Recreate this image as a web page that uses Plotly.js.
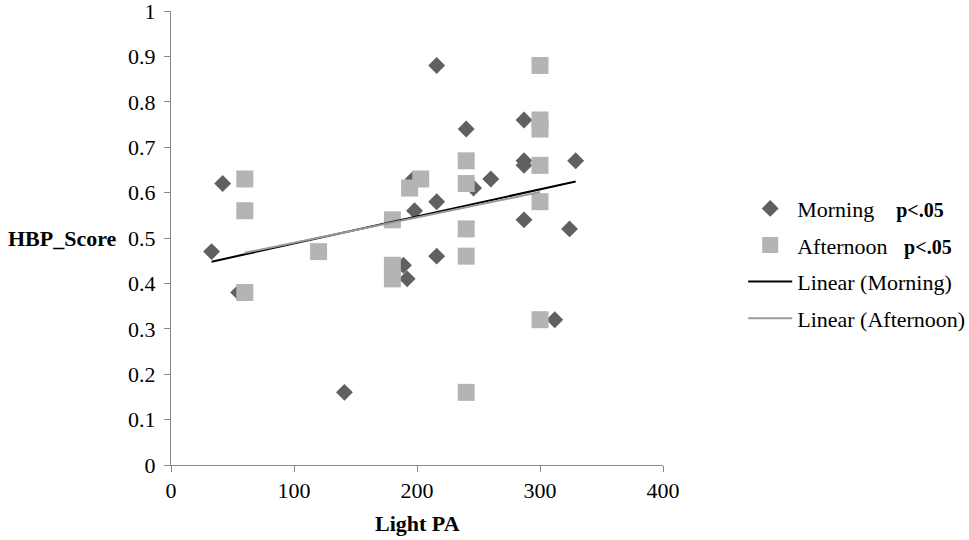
<!DOCTYPE html>
<html>
<head>
<meta charset="utf-8">
<script src="https://cdn.plot.ly/plotly-3.0.1.min.js"></script>
<style>
  html, body { margin: 0; padding: 0; background: #ffffff; }
  #chart { width: 969px; height: 540px; }
</style>
</head>
<body>
<div id="chart"></div>
<script>
  // Morning sessions (diamonds)
  const morningLightPA = [33, 42, 55, 141, 189, 192, 197, 198, 216, 216, 216, 240, 246, 260, 287, 287, 287, 287, 312, 324, 329];
  const morningScore = [0.47, 0.62, 0.38, 0.16, 0.44, 0.41, 0.63, 0.56, 0.88, 0.58, 0.46, 0.74, 0.61, 0.63, 0.76, 0.67, 0.66, 0.54, 0.32, 0.52, 0.67];

  // Afternoon sessions (squares)
  const afternoonLightPA = [60, 60, 60, 120, 180, 180, 180, 194, 203, 240, 240, 240, 240, 240, 300, 300, 300, 300, 300, 300];
  const afternoonScore = [0.63, 0.56, 0.38, 0.47, 0.54, 0.44, 0.41, 0.61, 0.63, 0.67, 0.62, 0.52, 0.46, 0.16, 0.88, 0.76, 0.74, 0.66, 0.58, 0.32];

  const xTicks = [0, 100, 200, 300, 400];
  const yTicks = [0, 0.1, 0.2, 0.3, 0.4, 0.5, 0.6, 0.7, 0.8, 0.9, 1];
  const seriesNames = ["Morning", "Afternoon", "Linear (Morning)", "Linear (Afternoon)"];
  const pNote = "p<.05";

  const serif = "Liberation Serif, Times New Roman, serif";

  // least squares trend line over the range of the data, like a spreadsheet trendline
  function trend(xs, ys) {
    const n = xs.length;
    const mx = xs.reduce((a, b) => a + b, 0) / n;
    const my = ys.reduce((a, b) => a + b, 0) / n;
    let sxy = 0;
    let sxx = 0;
    for (let i = 0; i < n; i += 1) {
      sxy += (xs[i] - mx) * (ys[i] - my);
      sxx += (xs[i] - mx) * (xs[i] - mx);
    }
    const slope = sxy / sxx;
    const x0 = Math.min(...xs);
    const x1 = Math.max(...xs);
    return { x: [x0, x1], y: [my + slope * (x0 - mx), my + slope * (x1 - mx)] };
  }

  function withNote(name, spaces) {
    return name + "\u00a0".repeat(spaces) +
      "<span style='font-size:20px'><b>" + pNote.replace("<", "&lt;") + "</b></span>";
  }

  const morningFit = trend(morningLightPA, morningScore);
  const afternoonFit = trend(afternoonLightPA, afternoonScore);

  const traces = [
    {
      x: morningLightPA,
      y: morningScore,
      type: "scatter",
      mode: "markers",
      name: withNote(seriesNames[0], 4),
      legendgroup: "m",
      marker: { symbol: "diamond", size: 13, color: "#606060" },
    },
    {
      x: afternoonLightPA,
      y: afternoonScore,
      type: "scatter",
      mode: "markers",
      name: withNote(seriesNames[1], 3),
      legendgroup: "a",
      marker: { symbol: "square", size: 17, color: "#b4b4b4" },
    },
    {
      x: morningFit.x,
      y: morningFit.y,
      type: "scatter",
      mode: "lines",
      name: seriesNames[2],
      legendgroup: "lm",
      line: { color: "#000000", width: 2 },
    },
    {
      x: afternoonFit.x,
      y: afternoonFit.y,
      type: "scatter",
      mode: "lines",
      name: seriesNames[3],
      legendgroup: "la",
      line: { color: "#9a9a9a", width: 2 },
    },
  ];

  function axis(extra) {
    return Object.assign({
      showgrid: false,
      zeroline: false,
      showline: true,
      linecolor: "#888888",
      linewidth: 1,
      ticks: "outside",
      ticklen: 6,
      tickcolor: "#888888",
      ticklabeloverflow: "allow",
      tickfont: { family: serif, size: 22, color: "#000000" },
    }, extra);
  }

  const layout = {
    width: 969,
    height: 540,
    margin: { l: 171, r: 306, t: 11, b: 75, autoexpand: false },
    paper_bgcolor: "#ffffff",
    plot_bgcolor: "#ffffff",
    font: { family: serif, size: 22, color: "#000000" },
    showlegend: true,
    legend: {
      x: 1.163,
      y: 0.611,
      xanchor: "left",
      yanchor: "top",
      bgcolor: "rgba(0,0,0,0)",
      font: { family: serif, size: 22, color: "#000000" },
      tracegroupgap: 5,
      itemwidth: 44,
    },
    xaxis: axis({
      range: [0, 400],
      tickvals: xTicks,
      ticktext: xTicks.map(String),
      ticklabelstandoff: 0,
    }),
    yaxis: axis({
      range: [0, 1],
      tickvals: yTicks,
      ticktext: yTicks.map(String),
      ticklabelstandoff: 4,
    }),
    annotations: [
      {
        text: "<b>Light PA</b>",
        xref: "paper",
        yref: "paper",
        x: 0.5,
        y: -0.128,
        xanchor: "center",
        yanchor: "middle",
        showarrow: false,
        font: { family: serif, size: 22, color: "#000000" },
      },
      {
        text: "<b>HBP_Score</b>",
        xref: "paper",
        yref: "y",
        x: -0.336,
        y: 0.5,
        xanchor: "left",
        yanchor: "middle",
        showarrow: false,
        font: { family: serif, size: 22, color: "#000000" },
      },
    ],
  };

  Plotly.newPlot("chart", traces, layout, { displayModeBar: false, staticPlot: true });
</script>
</body>
</html>
